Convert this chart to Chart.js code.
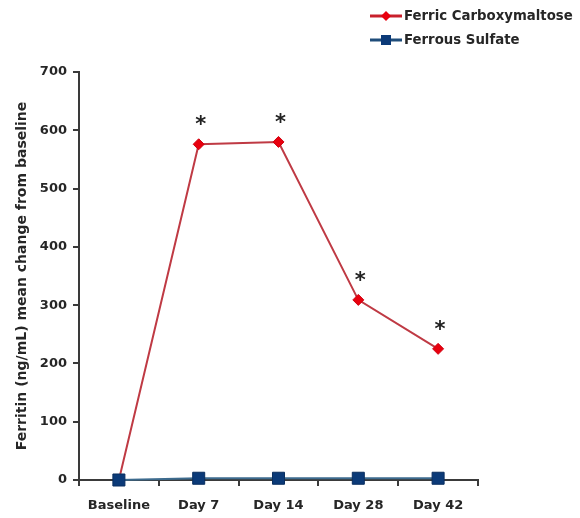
<!DOCTYPE html>
<html>
<head>
<meta charset="utf-8">
<script src="https://cdn.jsdelivr.net/npm/chart.js@4/dist/chart.umd.min.js"></script>
<style>
  html, body { margin: 0; padding: 0; background: #ffffff; }
  #wrap { width: 580px; height: 518px; position: relative; }
</style>
</head>
<body>
<div id="wrap"><canvas id="chart" width="580" height="518"></canvas></div>
<script>
// Visits and ferritin change from baseline (ng/mL)
const visits = ['Baseline', 'Day 7', 'Day 14', 'Day 28', 'Day 42'];
const ferricCarboxymaltose = [0, 576, 580, 309, 225];
const ferrousSulfate = [0, 3, 3, 3, 3];
// Visits where the difference is significant
const significant = [false, true, true, true, true];
const yTicks = [0, 100, 200, 300, 400, 500, 600, 700];

const FONT = '"DejaVu Sans", sans-serif';
const TEXT = '#262626';
const AXIS = '#3a3a3a';

// Asterisks above significant points of the first series
const starPlugin = {
  id: 'stars',
  afterDatasetsDraw(chart) {
    const meta = chart.getDatasetMeta(0);
    const ctx = chart.ctx;
    ctx.save();
    ctx.fillStyle = '#222222';
    ctx.font = 'bold 21px ' + FONT;
    ctx.textAlign = 'center';
    ctx.textBaseline = 'alphabetic';
    significant.forEach((flag, i) => {
      if (!flag) return;
      const pt = meta.data[i];
      ctx.fillText('*', pt.x + 2, pt.y - 25 + 12);
    });
    ctx.restore();
  }
};

// Stacked legend in the upper right corner
const legendPlugin = {
  id: 'cornerLegend',
  afterDraw(chart) {
    const ctx = chart.ctx;
    ctx.save();
    chart.data.datasets.forEach((ds, i) => {
      const y = 16 + i * 24;
      const x0 = 370, x1 = 402, mx = (x0 + x1) / 2;
      ctx.strokeStyle = ds.legendLine;
      ctx.lineWidth = 3;
      ctx.beginPath();
      ctx.moveTo(x0, y);
      ctx.lineTo(x1, y);
      ctx.stroke();
      ctx.fillStyle = ds.pointBackgroundColor;
      ctx.beginPath();
      if (ds.pointStyle === 'rectRot') {
        ctx.moveTo(mx, y - 5); ctx.lineTo(mx + 5, y); ctx.lineTo(mx, y + 5); ctx.lineTo(mx - 5, y);
      } else {
        ctx.rect(mx - 5, y - 5, 10, 10);
      }
      ctx.closePath();
      ctx.fill();
      ctx.fillStyle = TEXT;
      ctx.font = 'bold 13.3px ' + FONT;
      ctx.textAlign = 'left';
      ctx.textBaseline = 'middle';
      ctx.fillText(ds.label, 404, y + 1);
    });
    ctx.restore();
  }
};

new Chart(document.getElementById('chart'), {
  type: 'line',
  data: {
    labels: visits,
    datasets: [
      {
        label: 'Ferric Carboxymaltose',
        data: ferricCarboxymaltose,
        borderColor: '#bf3a44',
        borderWidth: 2,
        pointStyle: 'rectRot',
        pointRadius: 5.5,
        pointBackgroundColor: '#e8000e',
        pointBorderColor: '#d00010',
        pointBorderWidth: 1,
        legendLine: '#c8202c',
        tension: 0,
        clip: false,
        order: 1
      },
      {
        label: 'Ferrous Sulfate',
        data: ferrousSulfate,
        borderColor: '#3d6b8e',
        borderWidth: 2,
        pointStyle: 'rect',
        pointRadius: 8.5,
        pointBackgroundColor: '#0b3a78',
        pointBorderColor: '#0a2f60',
        pointBorderWidth: 1,
        legendLine: '#1f4d7a',
        tension: 0,
        clip: false,
        order: 0
      }
    ]
  },
  options: {
    responsive: false,
    animation: false,
    layout: { padding: { top: 72, right: 102, left: 0, bottom: 0 } },
    plugins: { legend: { display: false }, tooltip: { enabled: false } },
    scales: {
      x: {
        type: 'category',
        offset: true,
        grid: { drawOnChartArea: false, drawTicks: true, tickLength: 6, color: AXIS, lineWidth: 2, offset: true },
        border: { color: AXIS, width: 2 },
        ticks: { color: TEXT, font: { family: FONT, size: 13, weight: 'bold' }, padding: 12, maxRotation: 0 },
        afterFit(scale) { scale.height = 38; }
      },
      y: {
        min: 0,
        max: 700,
        afterBuildTicks(scale) { scale.ticks = yTicks.map(v => ({ value: v })); },
        grid: { drawOnChartArea: false, drawTicks: true, tickLength: 6, color: AXIS, lineWidth: 2 },
        border: { color: AXIS, width: 2 },
        ticks: { color: TEXT, font: { family: FONT, size: 13, weight: 'bold' }, padding: 6 },
        title: {
          display: true,
          text: 'Ferritin (ng/mL) mean change from baseline',
          color: TEXT,
          font: { family: FONT, size: 14, weight: 'bold' },
          padding: { top: 14, bottom: 0 }
        },
        afterFit(scale) { scale.width = 79; }
      }
    }
  },
  plugins: [starPlugin, legendPlugin]
});
</script>
</body>
</html>
